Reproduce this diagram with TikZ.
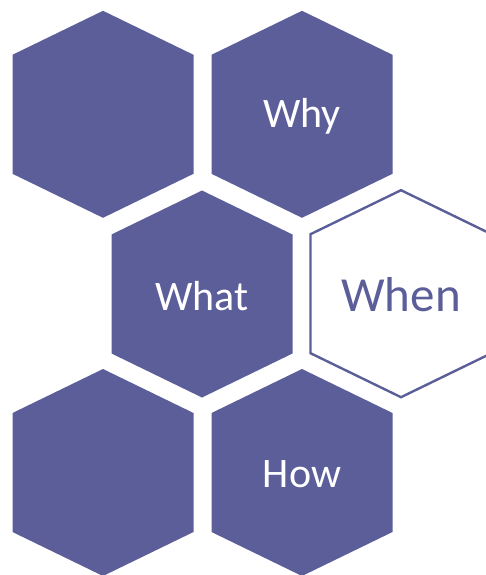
\documentclass[tikz,border=0pt]{standalone}
\usepackage{fontspec}
\setmainfont{Carlito}
\usetikzlibrary{positioning}
\definecolor{hexblue}{RGB}{92,94,153}
\tikzset{
  hexa/.pic={
    \path[pic actions] (0,-103.5) -- (90.5,-59.5) -- (90.5,59.5) -- (0,103.5)
      -- (-90.5,59.5) -- (-90.5,-59.5) -- cycle;
  },
  hexfill/.style={
    fill=hexblue,
    draw=none
  },
  hexline/.style={
    draw=hexblue,
    line width=2.4pt,
    line join=miter,
    fill=white
  },
  hexlabel/.style={
    text=white,
    font=\fontsize{42}{42}\selectfont,
    inner sep=0pt,
    yshift=-2pt
  },
  hexlabelB/.style={
    text=hexblue,
    font=\fontsize{49}{49}\selectfont,
    inner sep=0pt,
    yshift=-1pt
  }
}
\begin{document}
\begin{tikzpicture}[x=1pt,y=-1pt]
  \useasboundingbox (0,0) rectangle (486,575);
  % centres of the six cells
  \coordinate (topL) at (103,114.3);
  \coordinate (topR) at (302,114.3);
  \coordinate (midL) at (202,294);
  \coordinate (midR) at (401,293.7);
  \coordinate (botL) at (103,472.5);
  \coordinate (botR) at (302,472.5);
  \pic[hexfill] at (topL) {hexa};
  \pic[hexfill] at (topR) {hexa};
  \pic[hexfill] at (midL) {hexa};
  \pic[hexline] at (midR) {hexa};
  \pic[hexfill] at (botL) {hexa};
  \pic[hexfill] at (botR) {hexa};
  \node[hexlabel] (why) at (topR) {Why};
  \node[hexlabel] (what) at (midL) {What};
  \node[hexlabelB] (when) at (midR) {When};
  \node[hexlabel] (how) at (botR) {How};
\end{tikzpicture}
\end{document}
